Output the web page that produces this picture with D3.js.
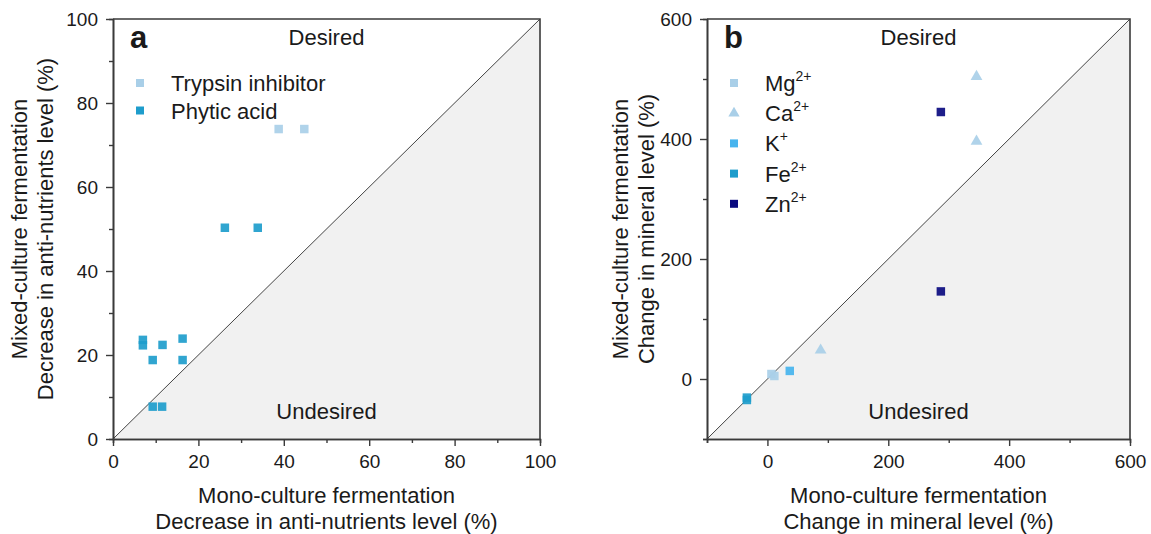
<!DOCTYPE html>
<html>
<head>
<meta charset="utf-8">
<script src="https://cdn.jsdelivr.net/npm/d3@7"></script>
<style>
  body { margin: 0; background: #fff; }
  text { font-family: "Liberation Sans", Arial, sans-serif; fill: #1a1a1a; }
</style>
</head>
<body>
<div id="chart"></div>
<script>
// Panel a: anti-nutrients (mono-culture x, mixed-culture y)
const trypsinX = [38.8, 44.8];
const trypsinY = [73.8, 73.8];
const phyticX = [26.2, 33.9, 7.0, 7.0, 11.6, 16.3, 9.3, 16.3, 9.3, 11.5];
const phyticY = [50.3, 50.3, 23.6, 22.3, 22.4, 23.9, 18.8, 18.8, 7.7, 7.7];

// Panel b: minerals
const mgX = [6.6, 11.5];
const mgY = [8.3, 5];
const caX = [88, 346, 346];
const caY = [48, 504, 396];
const kX = [37];
const kY = [13.5];
const feX = [-34, -34];
const feY = [-31, -35];
const znX = [287, 287];
const znY = [445, 146];

const ticksA = d3.range(0, 101, 20);
const minorA = d3.range(10, 100, 20);
const ticksB = [0, 200, 400, 600];
const minorB = [-100, 100, 300, 500];

const colLight = '#a9cfe8';
const colMid = '#1e9dcc';
const colK = '#47b4ee';
const colDark = '#0b0b80';

const svg = d3.select('#chart')
  .append('svg')
  .attr('width', 1151)
  .attr('height', 534);

function drawPanel(p) {
  const x = d3.scaleLinear().domain(p.domain).range([p.left, p.right]);
  const y = d3.scaleLinear().domain(p.domain).range([439, 19]);
  const [d0, d1] = p.domain;
  const g = svg.append('g');

  // shaded "undesired" triangle below the 1:1 line
  g.append('path')
    .attr('d', d3.line()([[x(d0), y(d0)], [x(d1), y(d1)], [x(d1), y(d0)]]) + 'Z')
    .attr('fill', '#f1f1f1');

  g.append('line')
    .attr('x1', x(d0)).attr('y1', y(d0))
    .attr('x2', x(d1)).attr('y2', y(d1))
    .attr('stroke', '#444')
    .attr('stroke-width', 1);

  // frame (top and right)
  g.append('path')
    .attr('d', `M${x(d0)},${y(d1)}H${x(d1)}V${y(d0)}`)
    .attr('fill', 'none')
    .attr('stroke', '#3a3a3a')
    .attr('stroke-width', 1.6);

  // axes: major and minor ticks
  const styleAxis = sel => {
    sel.select('.domain').attr('stroke', '#3a3a3a').attr('stroke-width', 1.6);
    sel.selectAll('.tick line').attr('stroke', '#3a3a3a').attr('stroke-width', 1.4);
    sel.selectAll('.tick text').style('font-size', '19px').attr('fill', '#1a1a1a');
  };
  g.append('g').attr('transform', 'translate(0,439)')
    .call(d3.axisBottom(x).tickValues(p.minor).tickSize(4).tickFormat(''))
    .call(styleAxis);
  g.append('g').attr('transform', `translate(${p.left},0)`)
    .call(d3.axisLeft(y).tickValues(p.minor).tickSize(4).tickFormat(''))
    .call(styleAxis);
  g.append('g').attr('transform', 'translate(0,439)')
    .call(d3.axisBottom(x).tickValues(p.ticks).tickSize(7).tickPadding(9).tickSizeOuter(0))
    .call(styleAxis);
  g.append('g').attr('transform', `translate(${p.left},0)`)
    .call(d3.axisLeft(y).tickValues(p.ticks).tickSize(7).tickPadding(8).tickSizeOuter(0))
    .call(styleAxis);

  // points
  p.series.forEach(s => {
    const pts = s.xs.map((v, i) => [x(v), y(s.ys[i])]);
    g.selectAll(null).data(pts).enter()
      .append('path')
      .attr('transform', d => `translate(${d[0]},${d[1]})`)
      .attr('d', d3.symbol().type(s.shape).size(s.shape === d3.symbolTriangle ? 60 : 72)())
      .attr('fill', s.color)
      .attr('fill-opacity', 0.92);
  });

  // legend
  p.series.filter(s => s.label).forEach((s, i) => {
    const ly = p.legendTop + i * p.legendStep;
    g.append('path')
      .attr('transform', `translate(${p.left + 27},${ly})`)
      .attr('d', d3.symbol().type(s.shape).size(s.shape === d3.symbolTriangle ? 55 : 64)())
      .attr('fill', s.color);
    const t = g.append('text')
      .attr('x', p.left + 58)
      .attr('y', ly + 8)
      .style('font-size', '22px');
    t.append('tspan').text(s.label);
    if (s.sup) {
      t.append('tspan').attr('dy', -10).style('font-size', '14px').text(s.sup);
    }
  });

  const cx = (p.left + p.right) / 2;
  g.append('text').attr('x', cx).attr('y', 45)
    .attr('text-anchor', 'middle').style('font-size', '22px').text('Desired');
  g.append('text').attr('x', cx).attr('y', 419)
    .attr('text-anchor', 'middle').style('font-size', '22px').text('Undesired');
  g.append('text').attr('x', p.left + 17).attr('y', 48)
    .style('font-size', '31px').style('font-weight', 'bold').text(p.tag);

  // axis titles
  g.append('text').attr('x', cx).attr('y', 503)
    .attr('text-anchor', 'middle').style('font-size', '22px').text('Mono-culture fermentation');
  g.append('text').attr('x', cx).attr('y', 529)
    .attr('text-anchor', 'middle').style('font-size', '22px').text(p.measure);
  g.append('text')
    .attr('transform', `translate(${p.titleX[0]},229) rotate(-90)`)
    .attr('text-anchor', 'middle').attr('dy', '0.35em')
    .style('font-size', '22px').text('Mixed-culture fermentation');
  g.append('text')
    .attr('transform', `translate(${p.titleX[1]},229) rotate(-90)`)
    .attr('text-anchor', 'middle').attr('dy', '0.35em')
    .style('font-size', '22px').text(p.measure);
}

drawPanel({
  tag: 'a',
  left: 113, right: 540,
  domain: [0, 100],
  ticks: ticksA, minor: minorA,
  titleX: [19, 45],
  measure: 'Decrease in anti-nutrients level (%)',
  legendTop: 83, legendStep: 27.5,
  series: [
    { label: 'Trypsin inhibitor', xs: trypsinX, ys: trypsinY, color: colLight, shape: d3.symbolSquare },
    { label: 'Phytic acid', xs: phyticX, ys: phyticY, color: colMid, shape: d3.symbolSquare }
  ]
});

drawPanel({
  tag: 'b',
  left: 707, right: 1130,
  domain: [-100, 600],
  ticks: ticksB, minor: minorB,
  titleX: [620, 646],
  measure: 'Change in mineral level (%)',
  legendTop: 83, legendStep: 30.2,
  series: [
    { label: 'Mg', sup: '2+', xs: mgX, ys: mgY, color: colLight, shape: d3.symbolSquare },
    { label: 'Ca', sup: '2+', xs: caX, ys: caY, color: colLight, shape: d3.symbolTriangle },
    { label: 'K', sup: '+', xs: kX, ys: kY, color: colK, shape: d3.symbolSquare },
    { label: 'Fe', sup: '2+', xs: feX, ys: feY, color: colMid, shape: d3.symbolSquare },
    { label: 'Zn', sup: '2+', xs: znX, ys: znY, color: colDark, shape: d3.symbolSquare }
  ]
});
</script>
</body>
</html>
